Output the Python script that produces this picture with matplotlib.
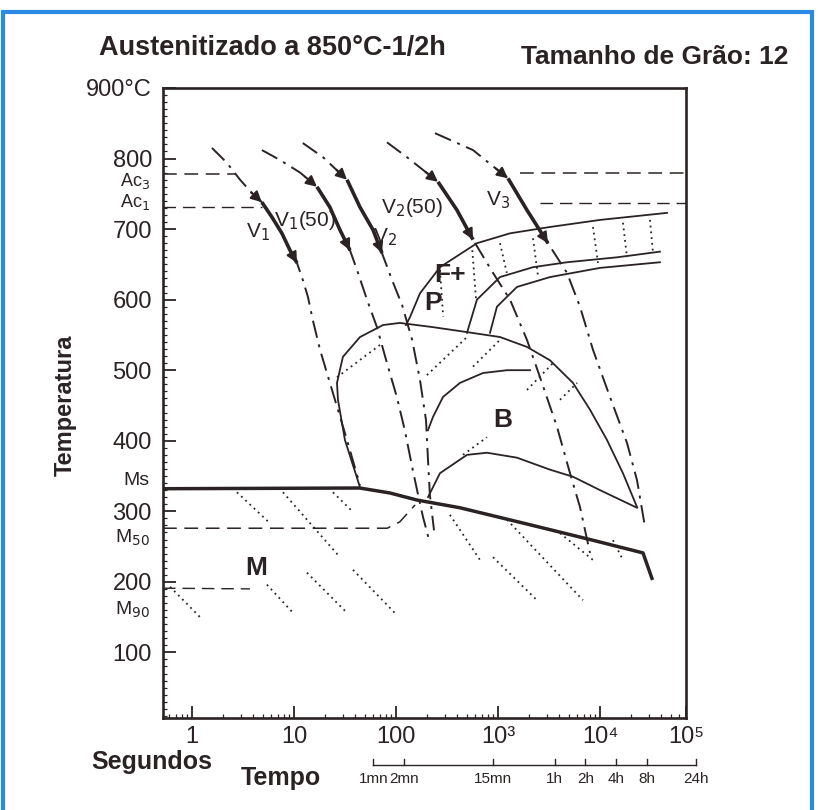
import numpy as np
import matplotlib
matplotlib.use("Agg")
import matplotlib.pyplot as plt
from matplotlib.patches import Rectangle
from matplotlib.ticker import FixedLocator, NullFormatter, LogLocator

INK = "#2b2323"
FONT = ["Liberation Sans", "DejaVu Sans"]
plt.rcParams["font.family"] = FONT

# ---------------- data (time in s, temperature in °C) ----------------
# cooling curves
v1_t = [1.57, 2.2, 2.96, 3.87, 4.85, 6.08, 7.62, 9.14, 10.7, 12.2, 13.7, 15.3, 18.0, 22.5, 33.1, 44.4]
v1_T = [815, 794, 770, 751, 738, 717, 694, 670, 652, 628, 604, 571, 529, 482, 401, 337]
v150_t = [4.85, 7.29, 11.5, 16.8, 22.5, 28.2, 35.4, 41.5, 52.0, 65.1, 81.6, 102, 122, 144, 161, 184, 215]
v150_T = [812, 798, 780, 760, 731, 699, 670, 642, 600, 561, 510, 462, 415, 363, 330, 292, 255]
v2_t = [12.2, 19.2, 33.1, 44.4, 59.5, 72.9, 91.4, 115, 144, 172, 197, 206, 215, 236]
v2_T = [822, 802, 770, 731, 699, 666, 628, 592, 543, 486, 429, 373, 323, 273]
v250_t = [81.6, 128, 258, 396, 569, 893, 1312, 1923, 2582, 3785, 5082, 6368, 7980]
v250_T = [823, 802, 767, 727, 685, 638, 600, 543, 490, 420, 354, 306, 241]
v3_t = [241, 569, 1253, 1923, 3090, 4747, 6368, 8535, 12530, 18400, 23070, 27610]
v3_T = [836, 812, 772, 727, 680, 638, 590, 529, 462, 397, 344, 278]
# temperature span marked with arrows on each cooling curve (upper, lower)
arrow_hi = [738, 760, 770, 767, 772]
arrow_lo = [652, 670, 666, 685, 680]
curve_names = ["V$_1$", "V$_1$(50)", "V$_2$", "V$_2$(50)", "V$_3$"]
name_t = [4.4, 12.8, 78, 144, 1000]
name_T = [696, 712, 689, 730, 741]

# critical temperatures
ac3_T = 778
ac1_T = 733
ac3_left_end_t = 2.64
ac3_right_start_t = 1644
ac1_left_end_t = 4.85
ac1_right_start_t = 2582

# martensite lines
ms_t = [0.52, 44, 87, 160, 424, 1920, 8500, 26400, 32300]
ms_T = [332, 333, 326, 316, 305, 282, 259, 241, 205]
m50_t = [0.52, 82, 109, 154]
m50_T = [276, 276, 285, 309]
m90_t = [0.52, 3.7]
m90_T = [191, 190]

# ferrite / pearlite band
fs_t = [125, 137, 172, 270, 622, 1312, 3236, 10000, 45400]
fs_T = [564, 575, 609, 646, 680, 694, 703, 713, 723]
ps_t = [497, 622, 1047, 2205, 4747, 14680, 38700]
ps_T = [553, 600, 632, 646, 653, 660, 668]
pf_t = [835, 977, 1535, 3236, 10000, 38700]
pf_T = [553, 590, 618, 632, 645, 653]

# bainite
bs_t = [44.4, 31.6, 27.0, 26.4, 30.2, 44.4, 74.6, 109, 231, 497, 1047, 1923, 3236, 5433, 7980, 11720, 16790, 23070]
bs_T = [334, 401, 458, 482, 519, 547, 564, 567, 561, 554, 547, 533, 514, 482, 444, 401, 354, 306]
b50_t = [206, 231, 289, 424, 713, 1225, 2060]
b50_T = [415, 434, 462, 482, 496, 500, 500]
bf_t = [206, 270, 497, 780, 1535, 3236, 5433, 10000, 23070]
bf_T = [320, 354, 380, 383, 376, 359, 349, 330, 305]

# dotted iso-lines (t0, t1, T0, T1)
iso_t0 = [270, 560, 1047, 2205, 8535, 16790, 30900,
          26.4, 201, 569, 1923, 4055, 454,
          2.76, 7.8, 24.1, 13.4, 37.9, 5.43, 0.61, 1225, 893, 4055, 13400, 338]
iso_t1 = [290, 610, 1220, 2475, 9560, 18400, 33100,
          74.6, 497, 1047, 3460, 5957, 780,
          5.82, 28.2, 37.9, 33.1, 102, 9.8, 1.2, 6808, 2410, 8535, 16790, 666]
iso_T0 = [642, 670, 680, 687, 703, 709, 713,
          490, 493, 505, 472, 458, 380,
          327, 327, 327, 213, 217, 196, 193, 288, 235, 269, 259, 295]
iso_T1 = [576, 600, 638, 632, 652, 660, 666,
          539, 547, 543, 510, 482, 405,
          283, 235, 299, 156, 153, 156, 150, 174, 174, 231, 231, 231]

# region labels
region_txt = ["F+", "P", "B", "M"]
region_t = [338, 231, 1120, 4.3]
region_T = [635, 595, 429, 220]

# axes ticks
x_ticks = [1, 10, 100, 1e3, 1e4]
x_labels = ["1", "10", "100", "10³", "10⁴"]
y_ticks = [100, 200, 300, 400, 500, 600, 700, 800]
ruler_s = [60, 120, 900, 3600, 7200, 14400, 28800, 86400]
ruler_lbl = ["1mn", "2mn", "15mn", "1h", "2h", "4h", "8h", "24h"]

XMIN, XMAX = 0.52, 69700
YMIN, YMAX = 7, 900

# ---------------- figure ----------------
fig = plt.figure(figsize=(8.18, 8.10), dpi=100)
fig.patch.set_facecolor("white")
ax = fig.add_axes([163 / 818, 1 - 718 / 810, 523 / 818, 630 / 810])
ax.set_xscale("log")
ax.set_xlim(XMIN, XMAX)
ax.set_ylim(YMIN, YMAX)

DASHDOT = (0, (9, 3.5, 1.5, 3.5))

curves = [(v1_t, v1_T), (v150_t, v150_T), (v2_t, v2_T), (v250_t, v250_T), (v3_t, v3_T)]
for i, (t, T) in enumerate(curves):
    t = np.asarray(t, float)
    T = np.asarray(T, float)
    ax.plot(t, T, color=INK, lw=1.4, ls=DASHDOT)
    # thick segment between arrows
    lt = np.log10(t)
    hi, lo = arrow_hi[i], arrow_lo[i]
    Tr = T[::-1]
    ltr = lt[::-1]
    lhi = np.interp(hi, Tr, ltr)
    llo = np.interp(lo, Tr, ltr)
    mask = (T < hi) & (T > lo)
    seg_l = np.concatenate([[lhi], lt[mask], [llo]])
    seg_T = np.concatenate([[hi], T[mask], [lo]])
    ax.plot(10 ** seg_l, seg_T, color=INK, lw=2.6, solid_capstyle="butt")
    for Tv in (hi, lo):
        la = np.interp(Tv, Tr, ltr)
        lb = np.interp(Tv + 14, Tr, ltr)
        ax.annotate("", xy=(10 ** la, Tv), xytext=(10 ** lb, Tv + 14),
                    arrowprops=dict(arrowstyle="-|>", color=INK, lw=1.5,
                                    mutation_scale=16, shrinkA=0, shrinkB=0))
    ax.text(name_t[i], name_T[i], curve_names[i], fontsize=15, color=INK,
            ha="center", va="center")

# Ac lines
DASH = (0, (9, 5))
ax.plot([XMIN, ac3_left_end_t], [ac3_T, ac3_T], color=INK, lw=1.1, ls=DASH)
ax.plot([ac3_right_start_t, XMAX], [ac3_T + 2, ac3_T + 2], color=INK, lw=1.1, ls=DASH)
ax.plot([XMIN, ac1_left_end_t], [ac1_T - 2, ac1_T - 2], color=INK, lw=1.0, ls=DASH)
ax.plot([ac1_right_start_t, XMAX], [ac1_T + 4, ac1_T + 4], color=INK, lw=1.0, ls=DASH)

# martensite
ax.plot(ms_t, ms_T, color=INK, lw=2.5)
ax.plot(m50_t, m50_T, color=INK, lw=1.1, ls=DASH)
ax.plot(m90_t, m90_T, color=INK, lw=1.0, ls=DASH)

# transformation curves
for t, T in [(fs_t, fs_T), (ps_t, ps_T), (pf_t, pf_T), (bs_t, bs_T), (b50_t, b50_T), (bf_t, bf_T)]:
    ax.plot(t, T, color=INK, lw=1.3)

# iso-lines
for a, b, c, d in zip(iso_t0, iso_t1, iso_T0, iso_T1):
    ax.plot([a, b], [c, d], color=INK, lw=1.3, ls=(0, (1, 2.2)))

# region labels
for s, t, T in zip(region_txt, region_t, region_T):
    ax.text(t, T, s, fontsize=19, fontweight="bold", color=INK, ha="center", va="center")

# axes styling
for sp in ax.spines.values():
    sp.set_linewidth(1.9)
    sp.set_color(INK)
ax.xaxis.set_major_locator(FixedLocator(x_ticks + [XMAX]))
ax.set_xticklabels(x_labels + ["10⁵"])
ax.xaxis.set_minor_locator(LogLocator(base=10, subs=np.arange(2, 10)))
ax.xaxis.set_minor_formatter(NullFormatter())
ax.yaxis.set_major_locator(FixedLocator(y_ticks + [YMAX]))
ax.set_yticklabels([str(v) for v in y_ticks] + ["900°C"])
ax.yaxis.set_minor_locator(FixedLocator(np.arange(10, 900, 10)))
ax.tick_params(which="major", direction="in", length=9, width=1.3, colors=INK,
               labelsize=17, pad=8)
ax.tick_params(which="minor", direction="in", length=3, width=0.9, colors=INK)
ax.tick_params(axis="x", which="major", pad=6)

# critical temperature labels on left
trans = ax.get_yaxis_transform()
for s, T, fs in [("Ac$_3$", 768, 13), ("Ac$_1$", 739, 13), ("Ms", 343, 14),
                 ("M$_{50}$", 262, 14), ("M$_{90}$", 160, 14)]:
    ax.text(-0.025, T, s, transform=trans, fontsize=fs, color=INK, ha="right", va="center")

# time ruler
rtrans = ax.get_xaxis_transform()
ax.plot([ruler_s[0], ruler_s[-1]], [-0.075, -0.075], transform=rtrans, color=INK, lw=1.0,
        clip_on=False)
for s, lbl in zip(ruler_s, ruler_lbl):
    ax.plot([s, s], [-0.075, -0.065], transform=rtrans, color=INK, lw=1.0, clip_on=False)
    ax.text(s, -0.097, lbl, transform=rtrans, fontsize=11, color=INK, ha="center", va="center")

# outer texts
fig.text(272 / 818, 1 - 48 / 810, "Austenitizado a 850°C-1/2h", fontsize=19.5,
         fontweight="bold", color=INK, ha="center", va="center")
fig.text(655 / 818, 1 - 57 / 810, "Tamanho de Grão: 12", fontsize=19,
         fontweight="bold", color=INK, ha="center", va="center")
fig.text(65 / 818, 1 - 405 / 810, "Temperatura", fontsize=17, fontweight="bold",
         color=INK, ha="center", va="center", rotation=90)
fig.text(152 / 818, 1 - 762 / 810, "Segundos", fontsize=18, fontweight="bold",
         color=INK, ha="center", va="center")
fig.text(281 / 818, 1 - 778 / 810, "Tempo", fontsize=18, fontweight="bold",
         color=INK, ha="center", va="center")

# blue frame
fig.patches.append(Rectangle((3 / 818, -0.05), 809 / 818, 1.05 - 12 / 810,
                             transform=fig.transFigure, fill=False,
                             edgecolor="#2a8ae6", lw=3))

fig.savefig("out.png", dpi=100)
